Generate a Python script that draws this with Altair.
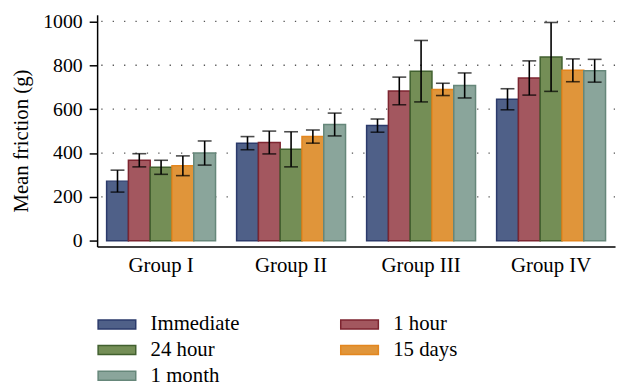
import altair as alt
import pandas as pd

groups = ["Group I", "Group II", "Group III", "Group IV"]
series = ["Immediate", "1 hour", "24 hour", "15 days", "1 month"]

immediate = [272, 445, 525, 645]
immediate_err = [50, 30, 30, 48]
one_hour = [367, 448, 683, 742]
one_hour_err = [30, 52, 63, 78]
hour_24 = [335, 417, 773, 838]
hour_24_err = [32, 80, 140, 157]
days_15 = [342, 475, 690, 777]
days_15_err = [45, 30, 28, 52]
month_1 = [400, 530, 708, 775]
month_1_err = [55, 52, 57, 52]

fill_colors = ["#4f6088", "#a3575f", "#748e56", "#e0953a", "#8aa59b"]
stroke_colors = ["#2b3a6b", "#7d2530", "#41602f", "#e3861f", "#66877a"]

grid_values = [200, 400, 600, 800, 1000]
tick_values = [0, 200, 400, 600, 800, 1000]

vals = [immediate, one_hour, hour_24, days_15, month_1]
errs = [immediate_err, one_hour_err, hour_24_err, days_15_err, month_1_err]

rows = []
for s, v, e in zip(series, vals, errs):
    for g, vv, ee in zip(groups, v, e):
        rows.append({"group": g, "series": s, "value": vv, "lo": vv - ee, "hi": vv + ee})
df = pd.DataFrame(rows)
grid_df = pd.DataFrame({"y": grid_values})

FONT = "Liberation Serif"
ydom = [-26, 1030]

x_enc = alt.X("group:N", sort=groups,
              scale=alt.Scale(paddingInner=0.162, paddingOuter=0.073),
              axis=alt.Axis(title=None, labelAngle=0, ticks=False, tickSize=0,
                            labelPadding=8, labelFont=FONT, labelFontSize=21,
                            labelColor="black", domainColor="black", domainWidth=1.5))
xoff = alt.XOffset("series:N", sort=series, scale=alt.Scale(paddingInner=0, paddingOuter=0))
y_scale = alt.Scale(domain=ydom, nice=False, zero=False)

grid = alt.Chart(grid_df).mark_rule(color="#555555", strokeWidth=1.3, strokeDash=[1.3, 10.2]).encode(
    y=alt.Y("y:Q", scale=y_scale)
)

legend = alt.Legend(title=None, orient="none", legendX=9.5, legendY=302,
                    columns=2, direction="horizontal",
                    labelFont=FONT, labelFontSize=21, labelColor="black", labelLimit=300,
                    symbolType="M-2,-0.48H2V0.48H-2Z", symbolSize=361, symbolStrokeWidth=1.5,
                    symbolOpacity=1, labelOffset=23.5, columnPadding=98, rowPadding=4)

bars = alt.Chart(df).mark_bar(strokeWidth=1.5, fillOpacity=1).encode(
    x=x_enc,
    xOffset=xoff,
    y=alt.Y("value:Q", scale=y_scale,
            axis=alt.Axis(title="Mean friction (g)", values=tick_values, grid=False, format="d",
                          tickSize=8, tickColor="black", tickWidth=1.5,
                          labelPadding=7, labelFont=FONT, labelFontSize=20, labelColor="black",
                          titleFont=FONT, titleFontSize=21, titleFontWeight="normal",
                          titleColor="black", titlePadding=11, titleY=127,
                          domainColor="black", domainWidth=1.5)),
    y2=alt.datum(0),
    fill=alt.Fill("series:N", sort=series,
                  scale=alt.Scale(domain=series, range=fill_colors),
                  legend=legend),
    stroke=alt.Stroke("series:N", sort=series,
                      scale=alt.Scale(domain=series, range=stroke_colors),
                      legend=legend),
)

err_lines = alt.Chart(df).mark_rule(color="black", strokeWidth=1.6).encode(
    x=alt.X("group:N", sort=groups),
    xOffset=xoff,
    y=alt.Y("lo:Q", scale=y_scale),
    y2="hi:Q",
)
caps_lo = alt.Chart(df).mark_tick(color="black", thickness=1.6, size=14, orient="horizontal").encode(
    x=alt.X("group:N", sort=groups),
    xOffset=xoff,
    y=alt.Y("lo:Q", scale=y_scale),
)
caps_hi = alt.Chart(df).mark_tick(color="black", thickness=1.6, size=14, orient="horizontal").encode(
    x=alt.X("group:N", sort=groups),
    xOffset=xoff,
    y=alt.Y("hi:Q", scale=y_scale),
)

chart = alt.layer(grid, bars, err_lines, caps_lo, caps_hi).properties(
    width=523, height=234,
    autosize=alt.AutoSizeParams(type="none"),
    padding={"left": 90, "top": 5, "right": 4, "bottom": 140},
).configure(font=FONT).configure_view(stroke=None).configure_legend(
    labelFont=FONT, labelFontSize=21, labelColor="black",
)

chart.save("out.html", embed_options={"renderer": "svg", "actions": False})
